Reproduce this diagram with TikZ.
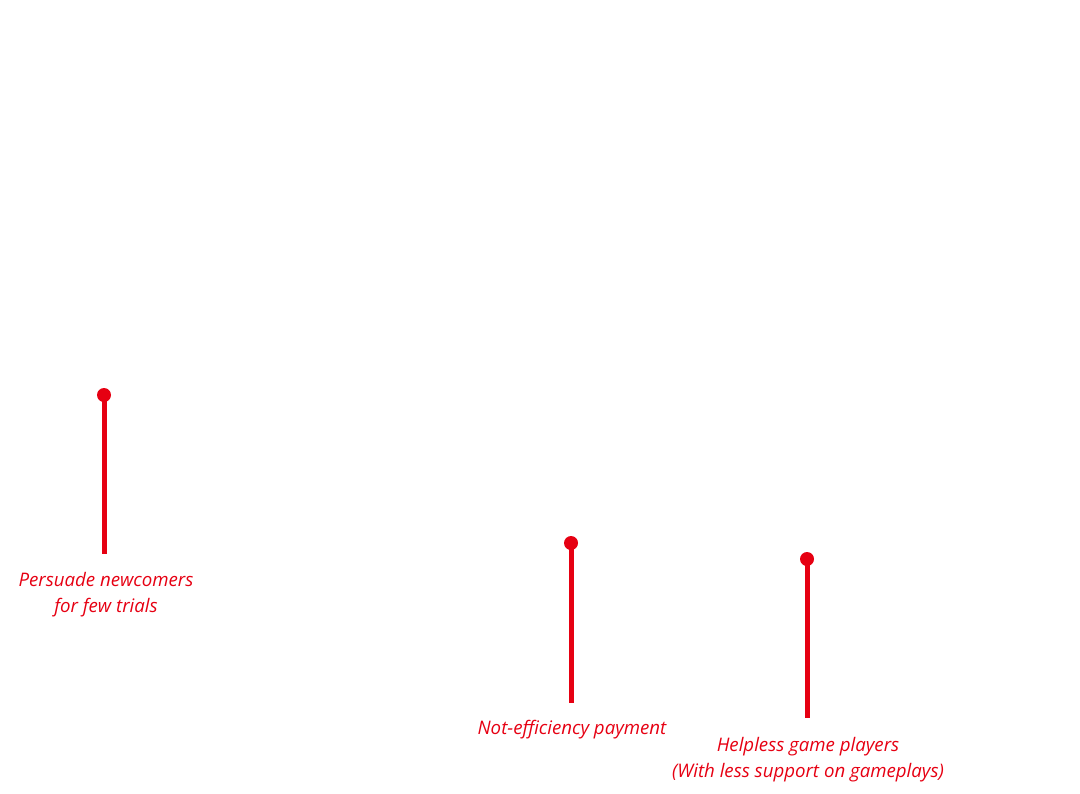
\documentclass[tikz,border=0pt]{standalone}
\usepackage{fontspec}
\setmainfont{Open Sans}
\usetikzlibrary{positioning}
\definecolor{pinred}{HTML}{E60012}

\begin{document}
\begin{tikzpicture}[x=0.75pt,y=-0.75pt,
  pindot/.style={circle,fill=pinred,inner sep=0pt,minimum size=10.5pt},
  pinline/.style={draw=pinred,line width=3.75pt},
  pinlabel/.style={text=pinred,font=\itshape\fontsize{14pt}{19.5pt}\selectfont,align=center,inner sep=0pt}]
\useasboundingbox (0,0) rectangle (1080,793);

\node[pindot] (dot1) at (104,395) {};
\coordinate (end1) at (104,554);
\draw[pinline] (dot1.center) -- (end1);
\node[pinlabel] (lab1) at (106,595) {Persuade newcomers\\for few trials};

\node[pindot] (dot2) at (571,543) {};
\coordinate (end2) at (571,703);
\draw[pinline] (dot2.center) -- (end2);
\node[pinlabel] (lab2) at (572,730) {Not-efficiency payment};

\node[pindot] (dot3) at (807,559) {};
\coordinate (end3) at (807,718);
\draw[pinline] (dot3.center) -- (end3);
\node[pinlabel] (lab3) at (808,760) {Helpless game players\\(With less support on gameplays)};
\end{tikzpicture}
\end{document}
